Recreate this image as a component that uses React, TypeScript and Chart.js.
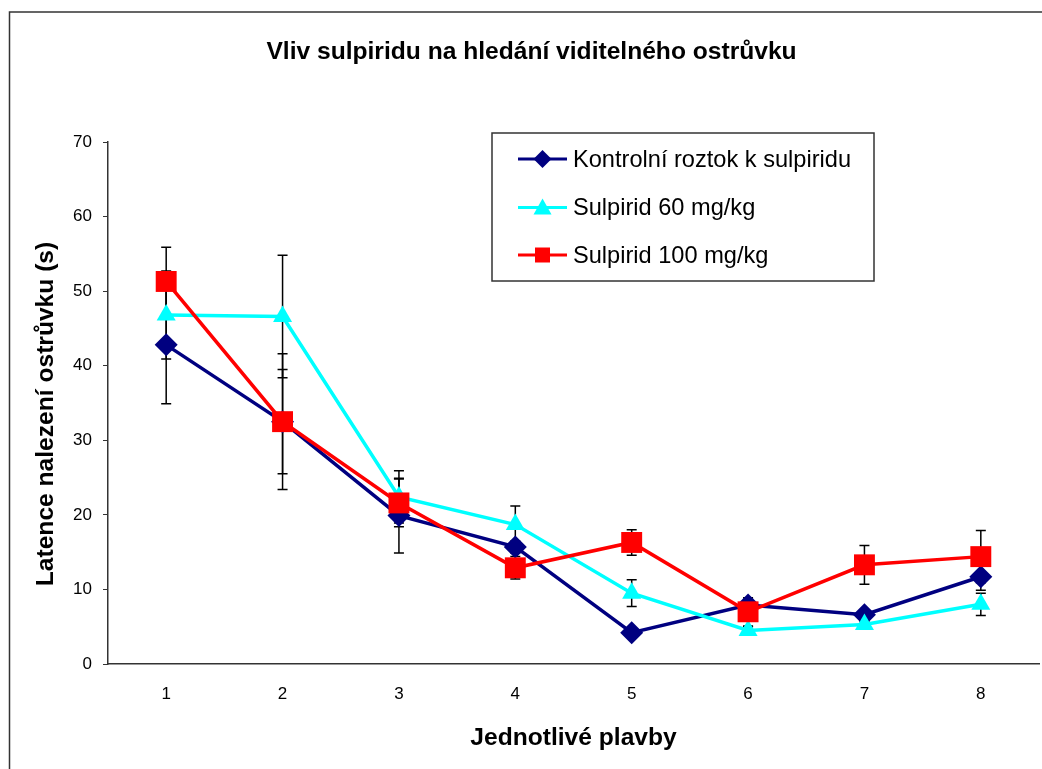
import React, { useEffect, useRef } from 'react';
import { Chart, registerables } from 'chart.js';

Chart.register(...registerables);

const FONT = "'Liberation Sans', Arial, sans-serif";

const chartTitle = 'Vliv sulpiridu na hledání viditelného ostrůvku';
const xAxisTitle = 'Jednotlivé plavby';
const yAxisTitle = 'Latence nalezení ostrůvku (s)';

const categories = ['1', '2', '3', '4', '5', '6', '7', '8'];

const seriesLabels = ['Kontrolní roztok k sulpiridu', 'Sulpirid 60 mg/kg', 'Sulpirid 100 mg/kg'];
const seriesColors = ['#000080', '#00FFFF', '#FF0000'];
const seriesMarkers = ['rectRot', 'triangle', 'rect'];

const ctrlValues = [42.8, 32.5, 19.9, 15.7, 4.2, 7.9, 6.6, 11.7];
const ctrlErrors = [7.9, 9.1, 5.0, 0.8, 0.4, 0.8, 0.4, 1.8];
const s60Values = [46.8, 46.6, 22.4, 18.7, 9.5, 4.5, 5.3, 8.0];
const s60Errors = [5.9, 8.2, 3.5, 2.5, 1.8, 0.5, 0.4, 1.5];
const s100Values = [51.3, 32.5, 21.6, 12.9, 16.3, 7.0, 13.3, 14.4];
const s100Errors = [4.6, 7.0, 3.2, 1.5, 1.7, 1.9, 2.6, 3.5];

const yMin = 0;
const yMax = 70;
const yStep = 10;

const allValues = [ctrlValues, s60Values, s100Values];
const allErrors = [ctrlErrors, s60Errors, s100Errors];

const frameBorder = {
  id: 'frameBorder',
  beforeDraw(chart: any) {
    const ctx = chart.ctx;
    ctx.save();
    ctx.fillStyle = '#ffffff';
    ctx.fillRect(0, 0, chart.width, chart.height);
    ctx.strokeStyle = '#333333';
    ctx.lineWidth = 1.5;
    ctx.strokeRect(9.5, 12, chart.width + 20, chart.height + 20);
    ctx.restore();
  },
};

const yTitlePlugin = {
  id: 'yTitlePlugin',
  afterDraw(chart: any) {
    const ctx = chart.ctx;
    ctx.save();
    ctx.translate(46.5, 414);
    ctx.rotate(-Math.PI / 2);
    ctx.fillStyle = '#000000';
    ctx.font = `bold 24.6px ${FONT}`;
    ctx.textAlign = 'center';
    ctx.textBaseline = 'middle';
    ctx.fillText(yAxisTitle, 0, 0);
    ctx.restore();
  },
};

const errorBars = {
  id: 'errorBars',
  beforeDatasetsDraw(chart: any) {
    const ctx = chart.ctx;
    const yScale = chart.scales.y;
    ctx.save();
    ctx.strokeStyle = '#000000';
    ctx.lineWidth = 1.5;
    allErrors.forEach((errs, i) => {
      const meta = chart.getDatasetMeta(i);
      errs.forEach((e, j) => {
        const pt = meta.data[j];
        if (!pt) return;
        const v = allValues[i][j];
        const x = pt.x;
        const yTop = yScale.getPixelForValue(v + e);
        const yBot = yScale.getPixelForValue(v - e);
        ctx.beginPath();
        ctx.moveTo(x, yTop);
        ctx.lineTo(x, yBot);
        ctx.moveTo(x - 5, yTop);
        ctx.lineTo(x + 5, yTop);
        ctx.moveTo(x - 5, yBot);
        ctx.lineTo(x + 5, yBot);
        ctx.stroke();
      });
    });
    ctx.restore();
  },
};

function drawMarker(ctx: CanvasRenderingContext2D, kind: string, x: number, y: number, color: string) {
  ctx.fillStyle = color;
  ctx.beginPath();
  if (kind === 'rectRot') {
    const r = 9;
    ctx.moveTo(x, y - r);
    ctx.lineTo(x + r, y);
    ctx.lineTo(x, y + r);
    ctx.lineTo(x - r, y);
  } else if (kind === 'triangle') {
    const w = 9;
    ctx.moveTo(x, y - 9);
    ctx.lineTo(x + w, y + 7);
    ctx.lineTo(x - w, y + 7);
  } else {
    const h = 7.5;
    ctx.rect(x - h, y - h, 2 * h, 2 * h);
  }
  ctx.closePath();
  ctx.fill();
}

const customLegend = {
  id: 'customLegend',
  afterDraw(chart: any) {
    const ctx = chart.ctx;
    const left = 492;
    const top = 133;
    const width = 382;
    const height = 148;
    ctx.save();
    ctx.fillStyle = '#ffffff';
    ctx.fillRect(left, top, width, height);
    ctx.strokeStyle = '#333333';
    ctx.lineWidth = 1.5;
    ctx.strokeRect(left, top, width, height);
    const rows = [159, 207.5, 255];
    chart.data.datasets.forEach((ds: any, i: number) => {
      const y = rows[i];
      ctx.strokeStyle = seriesColors[i];
      ctx.lineWidth = 3;
      ctx.beginPath();
      ctx.moveTo(518, y);
      ctx.lineTo(567, y);
      ctx.stroke();
      drawMarker(ctx, seriesMarkers[i], 542.5, y, seriesColors[i]);
      ctx.fillStyle = '#000000';
      ctx.font = `23.6px ${FONT}`;
      ctx.textAlign = 'left';
      ctx.textBaseline = 'middle';
      ctx.fillText(ds.label, 573, y + 1);
    });
    ctx.restore();
  },
};

export default function App() {
  const canvasRef = useRef<HTMLCanvasElement | null>(null);

  useEffect(() => {
    const canvas = canvasRef.current;
    if (!canvas) return;
    const radii = [11.5, 11, 14.8];
    const orders = [3, 2, 1];
    const chart = new Chart(canvas, {
      type: 'line',
      data: {
        labels: categories,
        datasets: allValues.map((vals, i) => ({
          label: seriesLabels[i],
          data: vals,
          borderColor: seriesColors[i],
          backgroundColor: seriesColors[i],
          borderWidth: 3.5,
          pointStyle: seriesMarkers[i] as any,
          pointRadius: radii[i],
          pointHoverRadius: radii[i],
          pointBorderWidth: 0,
          pointBackgroundColor: seriesColors[i],
          pointBorderColor: seriesColors[i],
          tension: 0,
          fill: false,
          clip: false,
          order: orders[i],
        })),
      },
      options: {
        responsive: false,
        animation: false,
        events: [],
        layout: { autoPadding: false, padding: { left: 24, right: 3, top: 0, bottom: 0 } },
        plugins: {
          legend: { display: false },
          tooltip: { enabled: false },
          title: {
            display: true,
            text: chartTitle,
            color: '#000000',
            font: { family: FONT, size: 24.6, weight: 'bold', lineHeight: 1.2 },
            padding: { top: 37, bottom: 75.5 },
          },
        },
        scales: {
          x: {
            type: 'category',
            offset: true,
            grid: { display: false, drawTicks: false, tickLength: 0 },
            border: { display: true, color: '#333333', width: 1.5 },
            ticks: {
              color: '#000000',
              font: { family: FONT, size: 17 },
              padding: 20,
              maxRotation: 0,
            },
            title: {
              display: true,
              text: xAxisTitle,
              color: '#000000',
              font: { family: FONT, size: 24.6, weight: 'bold', lineHeight: 1.2 },
              padding: { top: 0, bottom: 16 },
            },
            afterFit(scale: any) {
              scale.height = 105;
              scale.paddingLeft = 0;
              scale.paddingRight = 0;
            },
          },
          y: {
            min: yMin,
            max: yMax,
            grid: {
              display: true,
              drawOnChartArea: false,
              drawTicks: true,
              tickLength: 5,
              color: '#333333',
              lineWidth: 1,
            },
            border: { display: true, color: '#333333', width: 1.5 },
            ticks: {
              stepSize: yStep,
              color: '#000000',
              font: { family: FONT, size: 17 },
              padding: 11,
            },
            title: { display: false, text: yAxisTitle },
            afterFit(scale: any) {
              scale.width = 84;
              scale.paddingTop = 0;
              scale.paddingBottom = 0;
            },
          },
        },
      },
      plugins: [frameBorder, errorBars, customLegend, yTitlePlugin],
    });
    return () => {
      chart.destroy();
    };
  }, []);

  return (
    <div style={{ position: 'absolute', left: 0, top: 0, width: 1042, height: 769, overflow: 'hidden', background: '#fff' }}>
      <canvas ref={canvasRef} width={1042} height={769} style={{ width: 1042, height: 769, display: 'block' }} />
    </div>
  );
}
